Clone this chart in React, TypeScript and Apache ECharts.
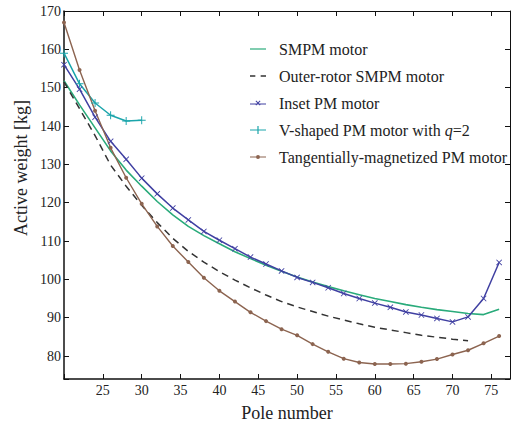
import React, { useEffect, useRef } from "react";
import * as echarts from "echarts";

const poles = [20, 22, 24, 26, 28, 30, 32, 34, 36, 38, 40, 42, 44, 46, 48, 50, 52, 54, 56, 58, 60, 62, 64, 66, 68, 70, 72, 74, 76];
const smpm = [151.8, 145.5, 139.5, 133.5, 128.5, 124.3, 120.3, 116.8, 113.8, 111.4, 109.3, 107.2, 105.4, 103.7, 102.1, 100.6, 99.3, 98.1, 97, 96, 95, 94.2, 93.4, 92.7, 92.1, 91.6, 91.1, 90.8, 92.2];
const outerPoles = [20, 22, 24, 26, 28, 30, 32, 34, 36, 38, 40, 42, 44, 46, 48, 50, 52, 54, 56, 58, 60, 62, 64, 66, 68, 70, 72];
const outerRotor = [151.5, 144.5, 137.5, 129.8, 124.3, 119.3, 114.8, 110.7, 107.3, 104.5, 102, 99.8, 97.8, 95.9, 94.2, 92.8, 91.6, 90.4, 89.4, 88.4, 87.5, 86.8, 86.1, 85.4, 84.9, 84.4, 84.0];
const inset = [156, 149.6, 142.3, 136, 131.3, 126.4, 122.3, 118.6, 115.5, 112.5, 110.2, 108, 105.8, 104, 102.2, 100.5, 99.2, 97.8, 96.3, 95, 93.8, 92.7, 91.5, 90.7, 89.8, 88.9, 90.2, 95, 104.4];
const vPoles = [20, 22, 24, 26, 28, 30];
const vShaped = [159, 151, 146, 142.8, 141.3, 141.5];
const tangential = [167, 154.6, 144, 134.3, 126.5, 119.7, 113.8, 108.7, 104.5, 100.4, 97, 94.2, 91.4, 89.1, 87, 85.4, 83.1, 81.1, 79.3, 78.3, 77.9, 77.9, 78, 78.5, 79.2, 80.4, 81.5, 83.3, 85.2];

const seriesNames = [
  "SMPM motor",
  "Outer-rotor SMPM motor",
  "Inset PM motor",
  "V-shaped PM motor with q=2",
  "Tangentially-magnetized PM motor",
];

const xLabelTicks = [25, 30, 35, 40, 45, 50, 55, 60, 65, 70, 75];
const yLabelTicks = [80, 90, 100, 110, 120, 130, 140, 150, 160, 170];

const FONT = "Liberation Serif";

const zip = (xs: number[], ys: number[]) => xs.map((x, i) => [x, ys[i]]);

export default function App() {
  const ref = useRef<HTMLDivElement>(null);
  useEffect(() => {
    const chart = echarts.init(ref.current!, null, { renderer: "svg" });
    const axisLine = { show: true, lineStyle: { color: "#111", width: 1.5 } };
    const xFmt = (v: number) => (xLabelTicks.includes(v) ? String(v) : "");
    const yFmt = (v: number) => (yLabelTicks.includes(v) ? String(v) : "");
    chart.setOption({
      animation: false,
      backgroundColor: "#fff",
      grid: { left: 64, top: 11, right: 1, bottom: 49 },
      legend: {
        orient: "vertical",
        left: 245,
        top: 36,
        itemWidth: 16,
        itemHeight: 12,
        itemGap: 11,
        data: [
          { name: seriesNames[0], icon: "path://M0,5.4H16V6.6H0Z" },
          { name: seriesNames[1], icon: "path://M0,5.4H5V6.6H0ZM10,5.4H15V6.6H10Z" },
          {
            name: seriesNames[2],
            icon: "path://M0,5.4H16V6.6H0ZM5.5,3.2L6.2,2.5L8,4.3L9.8,2.5L10.5,3.2L8.7,5L10.5,6.8L9.8,7.5L8,5.7L6.2,7.5L5.5,6.8L7.3,5ZM0,0H0.01V10H0Z",
          },
          { name: seriesNames[3], icon: "path://M0,5.4H16V6.6H0ZM7.4,2H8.6V5.4H12V6.6H8.6V10H7.4V6.6H4V5.4H7.4Z" },
          { name: seriesNames[4], icon: "path://M0,5.4H16V6.6H0ZM10,6A2,2,0,1,1,6,6A2,2,0,1,1,10,6Z" },
        ],
        textStyle: {
          fontFamily: FONT,
          fontSize: 16,
          color: "#222",
          padding: [0, 0, 0, 8],
          rich: {
            i: { fontFamily: FONT, fontSize: 16, fontStyle: "italic", color: "#222" },
          },
        },
        formatter: (name: string) =>
          name === "V-shaped PM motor with q=2" ? "V-shaped PM motor with {i|q}=2" : name,
      },
      xAxis: [
        {
          type: "value",
          min: 20,
          max: 77.4,
          interval: 5,
          axisLine,
          axisTick: { show: true, inside: true, length: 5, lineStyle: { color: "#111" } },
          splitLine: { show: false },
          axisLabel: { formatter: xFmt, fontFamily: FONT, fontSize: 14, color: "#222", margin: 4 },
          name: "Pole number",
          nameLocation: "middle",
          nameGap: 25,
          nameTextStyle: { fontFamily: FONT, fontSize: 18, color: "#222" },
        },
        {
          type: "value",
          position: "top",
          min: 20,
          max: 77.4,
          interval: 5,
          axisLine: { show: true, lineStyle: { color: "#111", width: 1 } },
          axisTick: { show: true, inside: true, length: 5, lineStyle: { color: "#111" } },
          splitLine: { show: false },
          axisLabel: { show: false },
        },
      ],
      yAxis: [
        {
          type: "value",
          min: 74,
          max: 170,
          splitNumber: 10,
          axisLine,
          axisTick: { show: true, inside: true, length: 5, lineStyle: { color: "#111" } },
          splitLine: { show: false },
          axisLabel: { formatter: yFmt, fontFamily: FONT, fontSize: 14, color: "#222", margin: 3 },
        },
        {
          type: "value",
          position: "right",
          min: 74,
          max: 170,
          splitNumber: 10,
          axisLine: { show: true, lineStyle: { color: "#111", width: 1 } },
          axisTick: { show: true, inside: true, length: 5, lineStyle: { color: "#111" } },
          splitLine: { show: false },
          axisLabel: { show: false },
        },
      ],
      graphic: [
        {
          type: "text",
          x: 21,
          y: 168,
          rotation: Math.PI / 2,
          style: {
            text: "Active weight [kg]",
            fontFamily: FONT,
            fontSize: 18,
            fill: "#222",
            align: "center",
            verticalAlign: "middle",
          },
        },
      ],
      series: [
        {
          name: seriesNames[0],
          type: "line",
          data: zip(poles, smpm),
          showSymbol: false,
          symbol: "none",
          lineStyle: { color: "#2aab7b", width: 1.6 },
          itemStyle: { color: "#2aab7b" },
          z: 2,
        },
        {
          name: seriesNames[1],
          type: "line",
          data: zip(outerPoles, outerRotor),
          symbol: "none",
          lineStyle: { color: "#333", width: 1.5, type: [7, 5] },
          itemStyle: { color: "#333" },
          z: 2,
        },
        {
          name: seriesNames[2],
          type: "line",
          data: zip(poles, inset),
          symbol: "path://M0,1L1,0L5,4L9,0L10,1L6,5L10,9L9,10L5,6L1,10L0,9L4,5Z",
          symbolSize: 6,
          showSymbol: true,
          lineStyle: { color: "#4040a2", width: 1.5 },
          itemStyle: { color: "#4040a2" },
          z: 3,
        },
        {
          name: seriesNames[3],
          type: "line",
          data: zip(vPoles, vShaped),
          symbol: "path://M4.4,0H5.6V4.4H10V5.6H5.6V10H4.4V5.6H0V4.4H4.4Z",
          symbolSize: 8,
          showSymbol: true,
          lineStyle: { color: "#1ba5ab", width: 1.5 },
          itemStyle: { color: "#1ba5ab" },
          z: 3,
        },
        {
          name: seriesNames[4],
          type: "line",
          data: zip(poles, tangential),
          symbol: "circle",
          symbolSize: 4,
          showSymbol: true,
          lineStyle: { color: "#8c6450", width: 1.4 },
          itemStyle: { color: "#8c6450" },
          z: 3,
        },
      ],
    });
    return () => chart.dispose();
  }, []);
  return <div ref={ref} style={{ width: 513, height: 428, position: "absolute", left: 0, top: 0 }} />;
}
